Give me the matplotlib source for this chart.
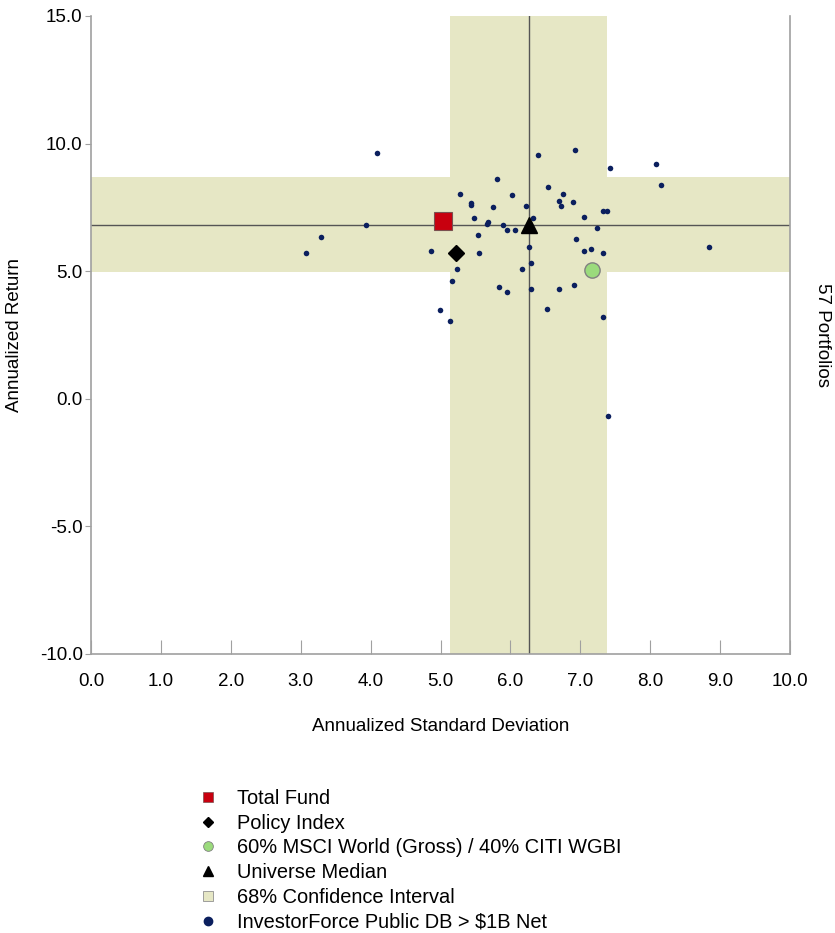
import matplotlib
matplotlib.use("Agg")
import matplotlib.pyplot as plt
from matplotlib.lines import Line2D
import numpy as np

#-------------------------------
#         data
#-------------------------------
univ_sd = [4.09, 5.28, 5.44, 5.43, 5.48, 3.93, 3.29, 3.08, 4.87, 5.54,
           5.55, 5.24, 5.17, 4.99, 5.13, 6.40, 6.92, 7.42, 8.09, 8.15,
           5.81, 6.03, 6.54, 6.75, 6.69, 6.73, 6.90, 5.75, 6.22, 5.68,
           5.67, 5.90, 5.95, 6.06, 6.32, 7.06, 7.32, 7.38, 7.24, 6.26,
           6.94, 7.05, 7.16, 7.32, 6.30, 6.17, 8.84, 5.83, 5.95, 6.29,
           6.70, 6.91, 6.53, 7.32, 7.39]
univ_ret = [9.62, 8.01, 7.68, 7.60, 7.10, 6.80, 6.34, 5.73, 5.79, 6.42,
            5.73, 5.07, 4.62, 3.48, 3.06, 9.55, 9.73, 9.06, 9.20, 8.37,
            8.61, 7.99, 8.29, 8.04, 7.75, 7.55, 7.70, 7.52, 7.57, 6.93,
            6.84, 6.82, 6.60, 6.63, 7.07, 7.14, 7.35, 7.37, 6.71, 5.95,
            6.26, 5.79, 5.87, 5.73, 5.31, 5.09, 5.96, 4.39, 4.18, 4.30,
            4.30, 4.46, 3.51, 3.20, -0.66]

fund = (5.04, 6.97)
policy = (5.22, 5.73)
blend = (7.17, 5.05)
median = (6.26, 6.80)
ci_sd = (5.14, 7.38)
ci_ret = (4.95, 8.70)

labels = ["Total Fund", "Policy Index", "60% MSCI World (Gross) / 40% CITI WGBI",
          "Universe Median", "68% Confidence Interval", "InvestorForce Public DB > $1B Net"]

#-------------------------------
#         fonts and colours
#-------------------------------
plt.rcParams['font.family'] = ['Liberation Sans', 'DejaVu Sans']

band = '#E6E7C5'
navy = '#0B1F5E'
grey = '#A0A0A0'

fig = plt.figure(figsize=(8.35, 9.33), dpi=100)
ax = fig.add_axes([91/835, 1-654/933, 699/835, 638/933])

ax.set_xlim(0, 10)
ax.set_ylim(-10, 15)

# confidence bands
ax.axvspan(ci_sd[0], ci_sd[1], color=band, lw=0, zorder=0)
ax.axhspan(ci_ret[0], ci_ret[1], color=band, lw=0, zorder=0)
# median cross
ax.axvline(median[0], color='#555555', lw=1.0, zorder=1)
ax.axhline(median[1], color='#555555', lw=1.0, zorder=1)

ax.scatter(univ_sd, univ_ret, s=16, color=navy, zorder=3, lw=0)
ax.plot(*median, marker='^', ms=11, color='black', zorder=4, ls='none')
ax.plot(*policy, marker='D', ms=8, color='black', zorder=4, ls='none')
ax.plot(*blend, marker='o', ms=11, mfc='#9BDB7C', mec='#808080', mew=1, zorder=4, ls='none')
ax.plot(*fund, marker='s', ms=13.5, mfc='#C8000F', mec='#7A5050', mew=0.8, zorder=5, ls='none')

ax.set_xticks(np.arange(0, 10.1, 1.0))
ax.set_yticks(np.arange(-10, 15.1, 5.0))
ax.xaxis.set_major_formatter(matplotlib.ticker.FormatStrFormatter('%.1f'))
ax.yaxis.set_major_formatter(matplotlib.ticker.FormatStrFormatter('%.1f'))
ax.tick_params(axis='x', direction='in', length=10, color=grey, labelsize=13.5, pad=14)
ax.tick_params(axis='y', direction='out', length=4, color=grey, labelsize=13.5, pad=2)
for s in ax.spines.values():
    s.set_color(grey)
    s.set_linewidth(1.2)
ax.spines['top'].set_visible(False)

ax.set_xlabel('Annualized Standard Deviation', fontsize=13.5, labelpad=20)
fig.text(15/835, 1-335/933, 'Annualized Return', rotation=90, fontsize=13.5,
         ha='center', va='center')
fig.text(822/835, 1-335/933, '57 Portfolios', rotation=270, fontsize=13.5,
         ha='center', va='center')

#-------------------------------
#         legend
#-------------------------------
handles = [
    Line2D([], [], ls='none', marker='s', ms=7, mfc='#C8000F', mec='#7A5050', mew=0.5),
    Line2D([], [], ls='none', marker='D', ms=5.5, color='black'),
    Line2D([], [], ls='none', marker='o', ms=7, mfc='#9BDB7C', mec='#808080', mew=0.6),
    Line2D([], [], ls='none', marker='^', ms=7, color='black'),
    Line2D([], [], ls='none', marker='s', ms=7, mfc=band, mec='#909090', mew=0.6),
    Line2D([], [], ls='none', marker='o', ms=6, color=navy),
]
fig.legend(handles, labels, loc='upper left', bbox_to_anchor=(186/835, 1-779/933),
           frameon=False, fontsize=14.4, handlelength=1.2, handletextpad=0.85,
           labelspacing=0.285, borderpad=0)

fig.savefig('out.png', dpi=100)
